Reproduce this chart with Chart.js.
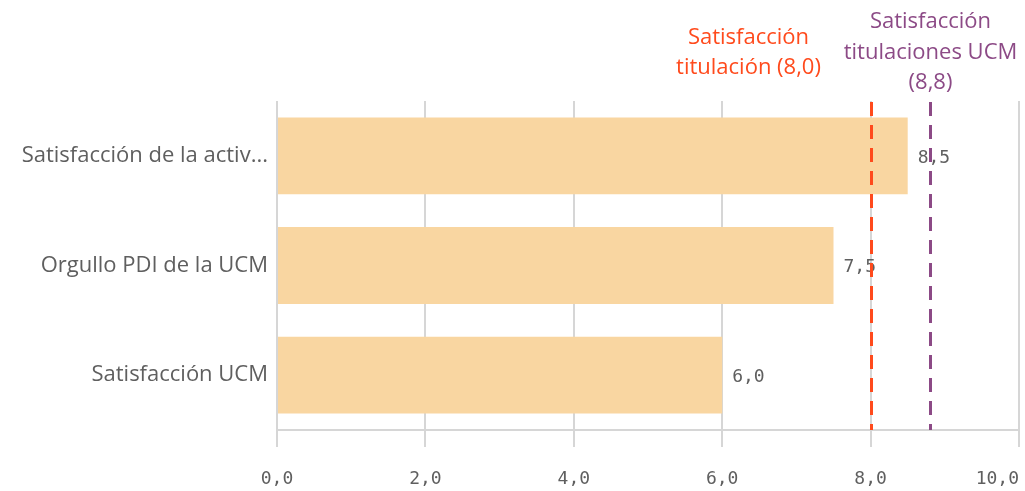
<!DOCTYPE html>
<html>
<head>
<meta charset="utf-8">
<script src="https://cdn.jsdelivr.net/npm/chart.js@4.4.1/dist/chart.umd.min.js"></script>
<style>
  html, body { margin: 0; padding: 0; background: #ffffff; }
  #wrap { width: 1025px; height: 491px; position: relative; }
</style>
</head>
<body>
<div id="wrap"><canvas id="c" width="1025" height="491"></canvas></div>
<script>
const categories = ["Satisfacción de la activ...", "Orgullo PDI de la UCM", "Satisfacción UCM"];
const values = [8.5, 7.5, 6.0];
const xTicks = [0, 2, 4, 6, 8, 10];
const refValues = [8.0, 8.8];
const refLabels = [["Satisfacción", "titulación (8,0)"], ["Satisfacción", "titulaciones UCM", "(8,8)"]];
const refColors = ["#ff4a1c", "#8c4a86"];

const fmt = v => v.toFixed(1).replace('.', ',');
const TEXT = "#5f5f5f";
const MONO = "'DejaVu Sans Mono', monospace";
const SANS = "'Open Sans', sans-serif";

const refPlugin = {
  id: 'refLines',
  afterDatasetsDraw(chart) {
    const ctx = chart.ctx, xs = chart.scales.x, area = chart.chartArea;
    const meta = chart.getDatasetMeta(0);
    ctx.save();
    ctx.font = "18px " + MONO;
    ctx.fillStyle = TEXT;
    ctx.textAlign = 'left';
    ctx.textBaseline = 'middle';
    meta.data.forEach((bar, i) => {
      ctx.fillText(fmt(values[i]), bar.x + 10, bar.y + 2);
    });
    ctx.restore();
    refValues.forEach((v, i) => {
      const x = Math.round(xs.getPixelForValue(v)) + 0.5;
      ctx.save();
      ctx.strokeStyle = refColors[i];
      ctx.lineWidth = 3;
      ctx.setLineDash([14, 9]);
      ctx.beginPath();
      ctx.moveTo(x, area.top + 1);
      ctx.lineTo(x, area.bottom);
      ctx.stroke();
      ctx.restore();
      ctx.save();
      ctx.font = "22px " + SANS;
      ctx.fillStyle = refColors[i];
      ctx.textAlign = 'center';
      ctx.textBaseline = 'middle';
      const lines = refLabels[i];
      const lh = 30.5;
      const cx = i === 0 ? x - 123 : x;
      const bottomCenter = i === 0 ? 68 : 83;
      lines.forEach((t, j) => {
        ctx.fillText(t, cx, bottomCenter - (lines.length - 1 - j) * lh);
      });
      ctx.restore();
    });
  }
};

new Chart(document.getElementById('c'), {
  type: 'bar',
  data: {
    labels: categories,
    datasets: [{
      data: values,
      backgroundColor: '#f9d6a1',
      borderWidth: 0,
      categoryPercentage: 0.7,
      barPercentage: 1.0
    }]
  },
  options: {
    indexAxis: 'y',
    responsive: false,
    animation: false,
    layout: { padding: { top: 101, right: 6, left: 0, bottom: 0 } },
    plugins: { legend: { display: false }, tooltip: { enabled: false } },
    scales: {
      x: {
        min: 0, max: 10,
        afterBuildTicks(scale) { scale.ticks = xTicks.map(v => ({ value: v })); },
        afterFit(scale) { scale.height = 61; scale.paddingRight = 0; scale.paddingLeft = 0; },
        grid: { color: '#d6d6d6', lineWidth: 2, tickLength: 17, drawOnChartArea: true },
        border: { display: true, color: '#d6d6d6', width: 2 },
        ticks: {
          maxRotation: 0,
          autoSkip: false,
          padding: 22,
          color: TEXT,
          font: { family: MONO, size: 18 },
          callback: (v) => v === 10 ? fmt(v) + "    " : fmt(v)
        }
      },
      y: {
        afterFit(scale) { scale.width = 277; },
        grid: { display: false },
        border: { display: false },
        ticks: {
          padding: 1,
          color: TEXT,
          font: { family: SANS, size: 22 }
        }
      }
    }
  },
  plugins: [refPlugin]
});
</script>
</body>
</html>
